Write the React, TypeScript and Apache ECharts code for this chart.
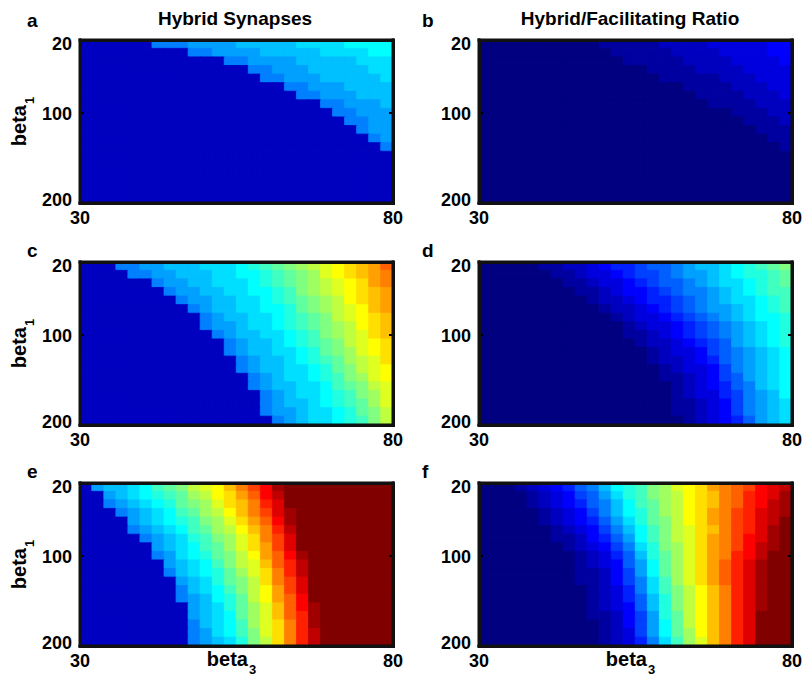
import React, { useEffect, useRef } from 'react';
import * as echarts from 'echarts';

// beta3 (columns, left -> right) and beta1 (rows, top -> bottom)
const beta3 = [30, 32, 34, 36, 38, 40, 42, 44, 46, 48, 50, 52, 54, 56, 58, 60, 62, 64, 66, 68, 70, 72, 74, 76, 78, 80];
const beta1 = [20, 30, 40, 50, 60, 70, 80, 90, 100, 110, 120, 130, 140, 150, 160, 170, 180, 190, 200];
const xTickLabels = [30, 80];
const yTickLabels = [20, 100, 200];
const yTickMarks = [100];
const panelLetters = ['a', 'b', 'c', 'd', 'e', 'f'];
const columnTitles = ['Hybrid Synapses', 'Hybrid/Facilitating Ratio'];
const xName = 'beta';
const xSub = '3';
const yName = 'beta';
const ySub = '1';

// Cell levels on a 0..32 colour scale (one base-36 character per cell), one string per beta1 row.
const panelA = [
  '2222228889999aaaaabbbbcccc',
  '222222222889999aaaaabbbbcc',
  '222222222222889999aaaaabbb',
  '2222222222222288999aaaaabb',
  '22222222222222288999aaaaab',
  '2222222222222222288999aaaa',
  '22222222222222222288999aaa',
  '2222222222222222222288999a',
  '22222222222222222222288999',
  '22222222222222222222228899',
  '22222222222222222222222899',
  '22222222222222222222222289',
  '22222222222222222222222228',
  '22222222222222222222222222',
  '22222222222222222222222222',
  '22222222222222222222222222',
  '22222222222222222222222222',
  '22222222222222222222222222',
  '22222222222222222222222222',
];
const panelB = [
  '00000000001111122223333344',
  '00000000000111112222333344',
  '00000000000011111222233334',
  '00000000000000111122223333',
  '00000000000000011111222333',
  '00000000000000000111122233',
  '00000000000000000011112223',
  '00000000000000000001111222',
  '00000000000000000000011122',
  '00000000000000000000001112',
  '00000000000000000000000111',
  '00000000000000000000000011',
  '00000000000000000000000001',
  '00000000000000000000000000',
  '00000000000000000000000000',
  '00000000000000000000000000',
  '00000000000000000000000000',
  '00000000000000000000000000',
  '00000000000000000000000000',
];
const panelC = [
  '2228899aaabbbcdefghijklmnp',
  '22228899aaabbccdefghjklmno',
  '222222899aabbbcdefghijklno',
  '2222222899aabbccdeghijklmn',
  '22222222899aabbcdefghiklmn',
  '22222222289aabbccdfghijkmn',
  '222222222289aabbcdefgijklm',
  '2222222222899abbcdefghiklm',
  '2222222222289aabbcdeghijlm',
  '22222222222289aabcdefgijkl',
  '22222222222289aabbcdfghjkl',
  '222222222222289aabcdefhijl',
  '222222222222289aabbcdfgijk',
  '2222222222222289abbcdeghjk',
  '2222222222222289aabbcefgij',
  '22222222222222289abbcdeghj',
  '22222222222222289aabcdefhj',
  '222222222222222899abbcdfgi',
  '222222222222222289abbcdegi',
];
const panelD = [
  '000001122345567789aabcdefg',
  '0000001123345667899abcddef',
  '0000000112334567789abbcdef',
  '00000000112344567889abcdee',
  '00000000012234556789abbcde',
  '000000000012234567899abcde',
  '000000000001233456789abccd',
  '0000000000001233456789abcd',
  '0000000000001123456789abcd',
  '0000000000000122345679abcd',
  '00000000000000123346789abc',
  '00000000000000122345789abc',
  '00000000000000012334689abc',
  '00000000000000011234679abc',
  '00000000000000001234578abc',
  '000000000000000012335689ac',
  '000000000000000011234689ab',
  '000000000000000011234689ab',
  '000000000000000001234579ab',
];
const panelE = [
  '29aabcefgijkmoqsvwwwwwwwww',
  '229abcdefhiklnpsuwwwwwwwww',
  '2289abcdfghjlmortwwwwwwwww',
  '22289abcefhikmoqtvwwwwwwww',
  '22229abcdeghjlnpsvwwwwwwww',
  '222289abcefhikmoruwwwwwwww',
  '2222289abdeghjloqtwwwwwwww',
  '2222229abcefhjlnqtwwwwwwww',
  '22222289bcdfgiknpsvwwwwwww',
  '22222229abcegijmpruwwwwwww',
  '22222228abcdfhjloruwwwwwww',
  '222222229abdfgiloqtwwwwwww',
  '222222228abcegiknqtwwwwwww',
  '2222222289acdfiknpswwwwwww',
  '2222222229abdfhjmpsvwwwwww',
  '2222222229abcfhjmprvwwwwww',
  '2222222228abcehjlorvwwwwww',
  '22222222289bcegjloruwwwwww',
  '22222222289abdgiloruwwwwww',
];
const panelF = [
  '0001234578acdeghjklnopqstu',
  '00001234679bdeghiklmoprstv',
  '00001234578acefhiklmoprsuv',
  '00000123468acdfhiklnoqrtuv',
  '000001234579bdfgiklnoqrtuw',
  '000000123468acegijlmoqrtvw',
  '0000001124579cegijlnoqstvw',
  '0000000123468bdghjlnoqsuvw',
  '0000000012357adfhjlnorsuww',
  '00000000123479cfhjlnprtvww',
  '00000000112469cfhjlnprtvww',
  '00000000112468behjlnprtvww',
  '00000000012358begikmortvww',
  '00000000012357adgikmortvww',
  '00000000012347adgikmortvww',
  '000000000112469dfikmortwww',
  '000000000012469cfikmortwww',
  '000000000012369cfhkmortwww',
  '000000000012358behjmortwww',
];
const LEVEL_MAX = 32;

const PANELS = [panelA, panelB, panelC, panelD, panelE, panelF];
const FONT = '"Liberation Sans", Arial, Helvetica, sans-serif';
const JET = ['#000080', '#0000ff', '#0080ff', '#00ffff', '#80ff80', '#ffff00', '#ff8000', '#ff0000', '#800000'];

const COL_LEFT = [80, 479];
const ROW_TOP = [40, 262, 483];
const PLOT_W = 313;
const PLOT_H = 163;
const FRAME_W = 3;
const LETTER_X = [27, 422];
const LETTER_Y = [20.5, 250.5, 471.5];
const TITLE_X = [235, 630];
const TITLE_Y = 18.5;

// same piecewise-linear jet ramp as the visualMap, used only to colour the cell edges (hides seams)
function jetColor(level: number) {
  const v = level / LEVEL_MAX;
  const c = (o: number) => Math.round(255 * Math.max(0, Math.min(1, 1.5 - Math.abs(4 * v - o))));
  return `rgb(${c(3)},${c(2)},${c(1)})`;
}

// black box round the plot area, sized from the grid's own coordinate system
function renderFrame(params: any) {
  const cs = params.coordSys;
  const t = FRAME_W;
  const bar = (x: number, y: number, w: number, h: number) => ({
    type: 'rect', shape: { x, y, width: w, height: h }, style: { fill: '#111' },
  });
  return {
    type: 'group',
    children: [
      bar(cs.x - t / 2, cs.y - t / 2, cs.width + t, t),
      bar(cs.x - t / 2, cs.y + cs.height - t / 2, cs.width + t, t),
      bar(cs.x - t / 2, cs.y - t / 2, t, cs.height + t),
      bar(cs.x + cs.width - t / 2, cs.y - t / 2, t, cs.height + t),
    ],
  };
}

function buildOption() {
  const grid: any[] = [];
  const xAxis: any[] = [];
  const yAxis: any[] = [];
  const heatmaps: any[] = [];
  const frames: any[] = [];
  const graphic: any[] = [];
  const labelStyle = { fontSize: 18, fontWeight: 'bold', fontFamily: FONT, color: '#000' };
  const rich = {
    b: { fontSize: 20, fontWeight: 'bold', fontFamily: FONT, color: '#000', lineHeight: 23 },
    s: { fontSize: 13, fontWeight: 'bold', fontFamily: FONT, color: '#000', lineHeight: 13, padding: [21, 0, 0, 1] },
  };
  const yLabelRich = {
    t: { ...labelStyle, padding: [8, 0, 0, 0] },
    m: { ...labelStyle, padding: [3, 0, 0, 0] },
    e: { ...labelStyle, padding: [0, 0, 7, 0] },
  };
  const frameLine = { show: true, onZero: false, lineStyle: { color: '#111', width: 3 } };
  const tick = { show: true, inside: true, length: 4, customValues: yTickMarks, lineStyle: { color: '#000', width: 2 } };

  PANELS.forEach((rows, i) => {
    const col = i % 2;
    const row = Math.floor(i / 2);
    grid.push({
      left: COL_LEFT[col], top: ROW_TOP[row], width: PLOT_W, height: PLOT_H,
      outerBoundsMode: 'none', containLabel: false,
    });

    xAxis.push({ type: 'category', gridIndex: i, data: beta3.map(String), show: false });
    xAxis.push({
      type: 'value', gridIndex: i, position: 'bottom', min: beta3[0], max: beta3[beta3.length - 1], z: 10,
      axisLine: frameLine, axisTick: { show: false }, splitLine: { show: false },
      axisLabel: { ...labelStyle, margin: 6, customValues: xTickLabels },
      name: row === 2 ? `{b|${xName}}{s|${xSub}}` : '',
      nameLocation: 'middle', nameGap: 1, nameMoveOverlap: false,
      nameTextStyle: { rich, padding: [0, 10, 0, 0] },
    });

    yAxis.push({ type: 'category', gridIndex: i, data: beta1.map(String), inverse: true, show: false });
    yAxis.push({
      type: 'value', gridIndex: i, position: 'left', min: beta1[0], max: beta1[beta1.length - 1], inverse: true, z: 10,
      axisLine: frameLine, axisTick: tick, splitLine: { show: false },
      axisLabel: {
        ...labelStyle, margin: 8, customValues: yTickLabels, rich: yLabelRich,
        formatter: (v: number) => `{${v === yTickLabels[0] ? 't' : v === yTickLabels[yTickLabels.length - 1] ? 'e' : 'm'}|${v}}`,
      },
      name: col === 0 ? `{b|${yName}}{s|${ySub}}` : '',
      nameLocation: 'middle', nameRotate: 90, nameGap: 50, nameMoveOverlap: false,
      nameTextStyle: { rich },
    });
    yAxis.push({
      type: 'value', gridIndex: i, position: 'right', min: beta1[0], max: beta1[beta1.length - 1], inverse: true, z: 10,
      axisLine: frameLine, axisTick: tick, axisLabel: { show: false }, splitLine: { show: false },
    });

    const data: any[] = [];
    rows.forEach((line, r) => {
      for (let k = 0; k < line.length; k++) {
        const lv = parseInt(line[k], 36);
        data.push({ value: [k, r, lv], itemStyle: { borderColor: jetColor(lv), borderWidth: 0.8 } });
      }
    });
    heatmaps.push({
      type: 'heatmap', xAxisIndex: 2 * i, yAxisIndex: 3 * i, data, z: 1,
      silent: true, emphasis: { disabled: true }, progressive: 0,
    });
    frames.push({
      type: 'custom', xAxisIndex: 2 * i, yAxisIndex: 3 * i, z: 20, silent: true, clip: false,
      data: [[0, 0]], renderItem: renderFrame,
    });
  });

  panelLetters.forEach((t, i) => {
    graphic.push({
      type: 'text', silent: true, x: LETTER_X[i % 2], y: LETTER_Y[Math.floor(i / 2)],
      style: { text: t, font: `bold 19px ${FONT}`, fill: '#000', textAlign: 'left', textVerticalAlign: 'middle' },
    });
  });
  columnTitles.forEach((t, c) => {
    graphic.push({
      type: 'text', silent: true, x: TITLE_X[c], y: TITLE_Y,
      style: { text: t, font: `bold 19px ${FONT}`, fill: '#000', textAlign: 'center', textVerticalAlign: 'middle' },
    });
  });

  return {
    animation: false,
    backgroundColor: '#fff',
    grid, xAxis, yAxis, graphic,
    series: [...heatmaps, ...frames],
    visualMap: {
      type: 'continuous', show: false, min: 0, max: LEVEL_MAX,
      seriesIndex: heatmaps.map((_, i) => i),
      inRange: { color: JET },
    },
  };
}

export default function App() {
  const ref = useRef<HTMLDivElement>(null);
  useEffect(() => {
    if (!ref.current) return;
    const chart = echarts.init(ref.current, undefined, { renderer: 'svg' });
    chart.setOption(buildOption() as any);
    return () => chart.dispose();
  }, []);
  return (
    <div style={{ position: 'absolute', left: 0, top: 0, width: 805, height: 678 }}>
      <div ref={ref} style={{ position: 'absolute', left: 0, top: 0, width: 805, height: 678 }} />
      {PANELS.map((_, i) => (
        <div
          key={i}
          style={{
            position: 'absolute',
            zIndex: 10,
            left: COL_LEFT[i % 2] - FRAME_W / 2,
            top: ROW_TOP[Math.floor(i / 2)] - FRAME_W / 2,
            width: PLOT_W + FRAME_W,
            height: PLOT_H + FRAME_W,
            border: `${FRAME_W}px solid #111`,
            boxSizing: 'border-box',
            pointerEvents: 'none',
          }}
        />
      ))}
    </div>
  );
}
